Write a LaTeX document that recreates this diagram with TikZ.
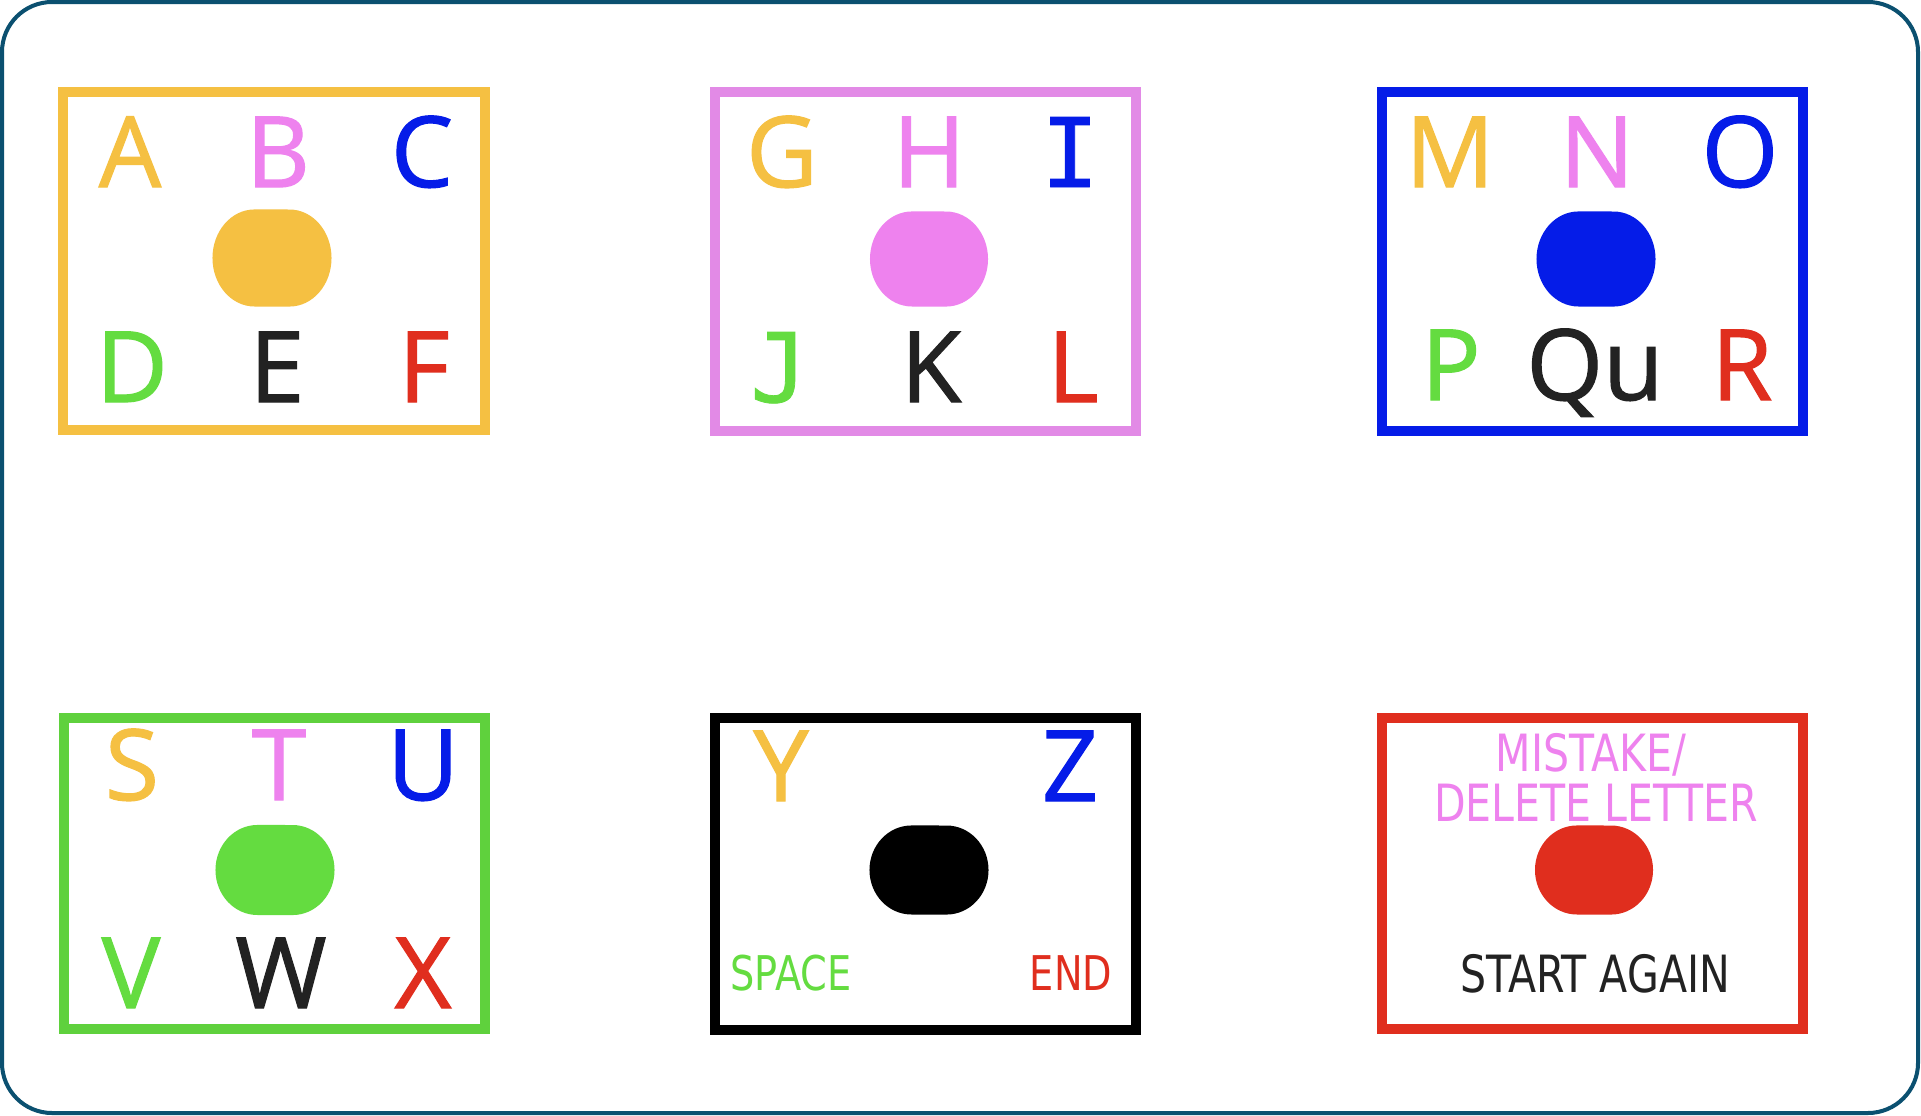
\documentclass[tikz,border=0pt]{standalone}
\usepackage{fontspec}
\setmainfont[FakeBold=1.2]{Open Sans}
\newfontfamily\tahfont[FakeStretch=0.80]{DejaVu Sans}
\newfontfamily\monofont[FakeBold=0.8]{DejaVu Sans Mono}
\definecolor{frameC}{RGB}{11,80,112}
\definecolor{orangeC}{RGB}{245,192,66}
\definecolor{violetC}{RGB}{238,130,238}
\definecolor{pinkB}{RGB}{226,138,230}
\definecolor{blueC}{RGB}{5,28,232}
\definecolor{greenC}{RGB}{100,220,64}
\definecolor{redC}{RGB}{224,46,30}
\definecolor{darkC}{RGB}{34,34,34}
\tikzset{
  frame/.style={draw=frameC, line width=1.14pt, rounded corners=0.5cm, fill=white},
  keybox/.style={line width=2.85pt},
  letter/.style={anchor=base, inner sep=0pt, font=\fontsize{28}{30}\selectfont},
  mletter/.style={anchor=base, inner sep=0pt, font=\monofont\fontsize{27.3}{30}\selectfont},
  smalltext/.style={anchor=base, inner sep=0pt, font=\tahfont\fontsize{13.6}{16}\selectfont},
  redtext/.style={anchor=base, inner sep=0pt, font=\tahfont\fontsize{14.6}{17}\selectfont},
}
% oval: name, cx, cy, w, h, colour
\newcommand\keyoval[6]{%
  \coordinate (#1) at (#2,#3);
  \fill[#6] ({#2+#4/2-42},{#3-#5/2})
    arc[start angle=90, end angle=-90, x radius=0.42cm, y radius={#5/200*1cm}]
    -- ({#2-#4/2+42},{#3+#5/2})
    arc[start angle=270, end angle=90, x radius=0.42cm, y radius={#5/200*1cm}]
    -- cycle;}
\begin{document}
\begin{tikzpicture}[x=0.01cm,y=-0.01cm]
\useasboundingbox (0,0) rectangle (1921,1115);
\fill[white] (0,0) rectangle (1921,1115);
\draw[frame] (2,2) rectangle (1918,1113);

% boxes
\draw[keybox, draw=orangeC] (63,92) rectangle (485,430);
\draw[keybox, draw=pinkB] (715,92) rectangle (1136,431);
\draw[keybox, draw=blueC] (1382,92) rectangle (1803,431);
\draw[keybox, draw=greenC!95!black] (64,718) rectangle (485,1029);
\draw[keybox, draw=black] (715,718) rectangle (1136,1030);
\draw[keybox, draw=redC] (1382,718) rectangle (1803,1029);

% ovals
\keyoval{o1}{272}{258}{119}{97}{orangeC}
\keyoval{o2}{929}{259}{118}{95}{violetC}
\keyoval{o3}{1596}{259}{119}{95}{blueC}
\keyoval{o4}{275}{870}{119}{90}{greenC}
\keyoval{o5}{929}{870}{119}{89}{black}
\keyoval{o6}{1594}{870}{118}{89}{redC}

% box 1
\node[letter, text=orangeC] (A) at (130,187) {A};
\node[letter, text=violetC] (B) at (278,187) {B};
\node[letter, text=blueC] (C) at (422,187) {C};
\node[letter, text=greenC] (D) at (132,402) {D};
\node[letter, text=darkC] (E) at (277,402) {E};
\node[letter, text=redC] (F) at (424,402) {F};
% box 2
\node[letter, text=orangeC] (G) at (782,187) {G};
\node[letter, text=violetC] (H) at (929,187) {H};
\node[mletter, text=blueC] (I) at (1070,187) {I};
\node[mletter, text=greenC] (J) at (779,402) {J};
\node[letter, text=darkC] (K) at (931,402) {K};
\node[letter, text=redC] (L) at (1073,402) {L};
% box 3
\node[letter, text=orangeC] (M) at (1450,187) {M};
\node[letter, text=violetC] (N) at (1597,187) {N};
\node[letter, text=blueC] (O) at (1740,187) {O};
\node[letter, text=greenC] (P) at (1451,400) {P};
\node[letter, text=darkC] (Qu) at (1595,400) {Qu};
\node[letter, text=redC] (R) at (1742,400) {R};
% box 4
\node[letter, text=orangeC] (S) at (132,800) {S};
\node[letter, text=violetC] (T) at (279,800) {T};
\node[letter, text=blueC] (U) at (423,800) {U};
\node[letter, text=greenC] (V) at (131,1008) {V};
\node[letter, text=darkC] (W) at (281,1008) {W};
\node[letter, text=redC] (X) at (423,1008) {X};
% box 5
\node[letter, text=orangeC] (Y) at (781,801) {Y};
\node[letter, text=blueC] (Z) at (1070,801) {Z};
\node[smalltext, text=greenC] (space) at (791,990) {SPACE};
\node[smalltext, text=redC] (end) at (1071,990) {END};
% box 6
\node[redtext, text=violetC] (mistake) at (1591,771) {MISTAKE/};
\node[redtext, text=violetC] (delete) at (1596,821) {DELETE LETTER};
\node[redtext, text=darkC] (start) at (1595,992) {START AGAIN};
\end{tikzpicture}
\end{document}
